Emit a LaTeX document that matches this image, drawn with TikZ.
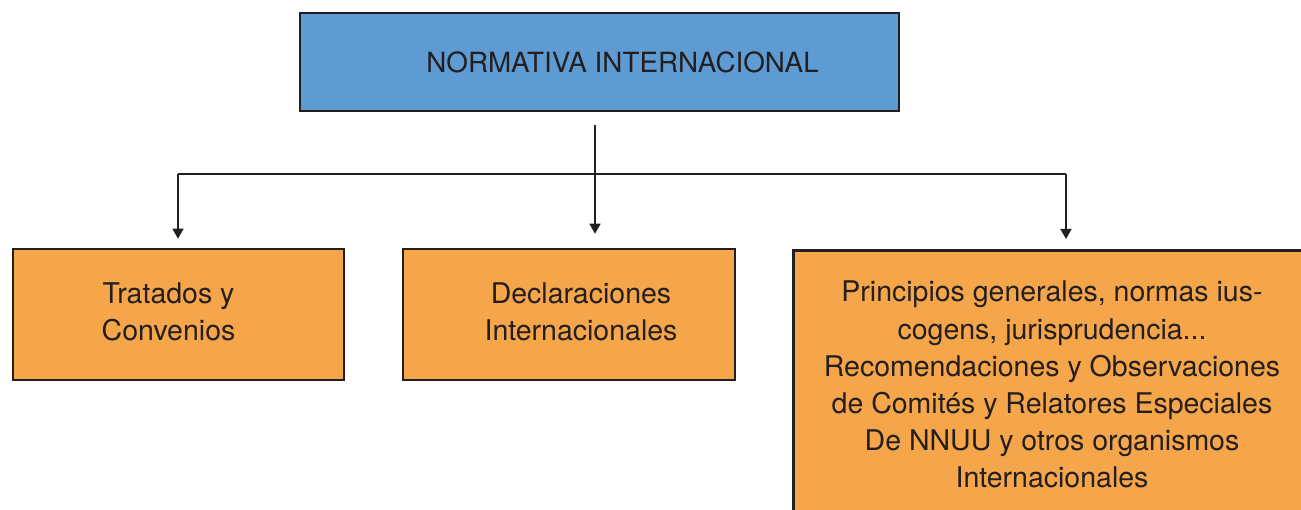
\documentclass[tikz,border=0pt]{standalone}
\usepackage{fontspec}
\setmainfont{TeX Gyre Heros}
\usetikzlibrary{arrows.meta}
\definecolor{boxblue}{HTML}{5D9BD2}
\definecolor{boxorange}{HTML}{F5A54A}
\definecolor{ink}{HTML}{231F20}
\tikzset{
  box/.style={draw=ink, line width=2.6pt, inner sep=0pt, text=ink,
    font=\fontsize{27.8}{36.5}\selectfont},
  txt/.style={align=center, text=ink, inner sep=0pt,
    font=\fontsize{28.5}{37.2}\selectfont},
  conn/.style={draw=ink, line width=1.5pt},
  arr/.style={conn, -{Triangle[width=11pt,length=10pt]}}
}
\begin{document}
\begin{tikzpicture}[x=1pt,y=-1pt]
\clip (0,0) rectangle (1301,510);
\fill[white] (0,0) rectangle (1301,510);
% top box
\node[box, fill=boxblue, minimum width=599pt, minimum height=98pt] (top) at (599.5,62)
  {\hspace*{46pt}NORMATIVA INTERNACIONAL};
% lower boxes
\node[box, fill=boxorange, minimum width=331pt, minimum height=131pt,
  label={[txt, xshift=-10pt, yshift=3pt]center:Tratados y\\Convenios}] (tra) at (178.5,314.5) {};
\node[box, fill=boxorange, minimum width=332pt, minimum height=131pt,
  label={[txt, xshift=12pt, yshift=3pt]center:Declaraciones\\Internacionales}] (dec) at (569,314.5) {};
\node[box, fill=boxorange, minimum width=530pt, minimum height=290pt, anchor=north west] (pri) at (792,249) {};
\node[txt, anchor=north] (pritxt) at (1052,281)
  {Principios generales, normas ius-\\cogens, jurisprudencia...\\Recomendaciones y Observaciones\\de Comités y Relatores Especiales\\De NNUU y otros organismos\\Internacionales};
% connectors
\coordinate (jL) at (178,174);
\coordinate (jM) at (595,174);
\coordinate (jR) at (1066,174);
\draw[conn] (jL) -- (jR);
\draw[arr, shorten <=13pt, shorten >=14pt] (top.south -| jM) -- (jM |- dec.north);
\draw[arr, shorten >=9pt] (jL) -- (jL |- tra.north);
\draw[arr, shorten >=10pt] (jR) -- (jR |- pri.north);
\end{tikzpicture}
\end{document}
